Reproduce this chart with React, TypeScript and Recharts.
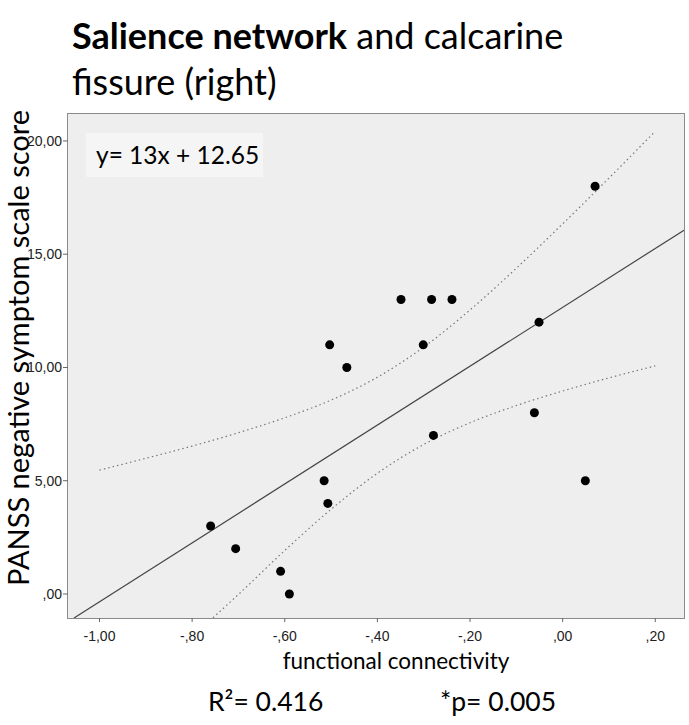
import { ComposedChart, Scatter, Line, XAxis, YAxis } from 'recharts';

// x ticks / y ticks as drawn by the stats package
const xTicks = [-1.0, -0.8, -0.6, -0.4, -0.2, 0.0, 0.2];
const yTicks = [0, 5, 10, 15, 20];

// one point per subject
const connectivity = [-0.349, -0.283, -0.239, -0.051, -0.503, -0.301, -0.466, -0.061, -0.279, -0.515, 0.049, -0.507, -0.76, -0.706, -0.609, -0.59, 0.07];
const panssScore = [13, 13, 13, 12, 11, 11, 10, 8, 7, 5, 5, 4, 3, 2, 1, 0, 18];

// fit line, read at the frame edges
const fitX = [-1.055, 0.262];
const fitY = [-1.06, 16.06];

// 95% confidence band of the mean
const upperX = [-1.0, -0.9, -0.8, -0.7, -0.6, -0.5, -0.4, -0.3, -0.2, -0.1, 0.0, 0.1, 0.2];
const upperY = [5.47, 5.99, 6.53, 7.12, 7.78, 8.56, 9.57, 10.9, 12.54, 14.38, 16.34, 18.36, 20.43];
const lowerX = [-0.755, -0.7, -0.6, -0.5, -0.4, -0.3, -0.2, -0.1, 0.0, 0.1, 0.2];
const lowerY = [-1.05, -0.02, 1.92, 3.74, 5.33, 6.6, 7.56, 8.32, 8.96, 9.54, 10.07];

const points = connectivity.map((x, i) => ({ x, y: panssScore[i] }));
const fitData = fitX.map((x, i) => ({ x, y: fitY[i] }));
const upperData = upperX.map((x, i) => ({ x, y: upperY[i] }));
const lowerData = lowerX.map((x, i) => ({ x, y: lowerY[i] }));

function commaFmt(v: number): string {
  const s = Math.abs(v).toFixed(2).replace('.', ',');
  const body = s.startsWith('0,') ? s.slice(1) : s;
  return (v < -1e-9 ? '-' : '') + body;
}

const textFont = 'Lato, "Open Sans", sans-serif';
const tickStyle = { fill: '#222', fontSize: 14, fontFamily: '"Liberation Sans", Arial, sans-serif' };

export default function App() {
  return (
    <div style={{ position: 'absolute', left: 0, top: 0, width: 689, height: 725, background: '#fff', fontFamily: textFont, color: '#000' }}>
      {/* title */}
      <div style={{ position: 'absolute', left: 72, top: 12, fontSize: 36, lineHeight: '46px' }}>
        <span style={{ fontWeight: 700 }}>Salience network</span> and calcarine
        <br />
        fissure (right)
      </div>

      {/* plot background + frame */}
      <div style={{ position: 'absolute', left: 67, top: 113, width: 616, height: 504, background: '#eeeeee', border: '1.5px solid #8a8a8a' }} />

      {/* equation box */}
      <div style={{ position: 'absolute', left: 86, top: 133, width: 177, height: 44, background: '#f5f5f5', fontSize: 24.5, lineHeight: '44px', paddingLeft: 10, boxSizing: 'border-box' }}>
        y= 13x + 12.65
      </div>

      <div style={{ position: 'absolute', left: 0, top: 0 }}>
        <ComposedChart width={689} height={650} margin={{ top: 114, right: 5, bottom: 2, left: 0 }}>
          <XAxis
            type="number"
            dataKey="x"
            domain={[-1.068, 0.262]}
            ticks={xTicks}
            allowDataOverflow
            tickFormatter={commaFmt}
            tick={tickStyle}
            tickSize={4}
            tickMargin={9}
            axisLine={false}
            tickLine={{ stroke: '#666' }}
            height={30}
          />
          <YAxis
            type="number"
            dataKey="y"
            domain={[-1.06, 21.19]}
            ticks={yTicks}
            allowDataOverflow
            tickFormatter={commaFmt}
            tick={tickStyle}
            tickSize={5}
            tickMargin={1}
            axisLine={false}
            tickLine={{ stroke: '#666' }}
            width={68}
          />
          <Line data={upperData} dataKey="y" type="monotone" dot={false} stroke="#777" strokeWidth={1.2} strokeDasharray="1.5 3" isAnimationActive={false} />
          <Line data={lowerData} dataKey="y" type="monotone" dot={false} stroke="#777" strokeWidth={1.2} strokeDasharray="1.5 3" isAnimationActive={false} />
          <Line data={fitData} dataKey="y" type="linear" dot={false} stroke="#444" strokeWidth={1.2} isAnimationActive={false} />
          <Scatter
            data={points}
            fill="#000"
            isAnimationActive={false}
            shape={(p: any) => <circle cx={p.cx} cy={p.cy} r={4.5} fill="#000" />}
          />
        </ComposedChart>
      </div>

      {/* axis titles */}
      <div
        style={{
          position: 'absolute', left: 18 - 300, top: 348 - 15, width: 600, height: 30,
          textAlign: 'center', fontSize: 29, lineHeight: '30px', transform: 'rotate(-90deg)', whiteSpace: 'nowrap',
        }}
      >
        PANSS negative symptom scale score
      </div>
      <div style={{ position: 'absolute', left: 196, width: 400, top: 647, textAlign: 'center', fontSize: 22.5, lineHeight: '28px' }}>
        functional connectivity
      </div>

      {/* fit statistics */}
      <div style={{ position: 'absolute', left: 208, top: 684, fontSize: 26.5, lineHeight: '34px' }}>
        R²= 0.416
      </div>
      <div style={{ position: 'absolute', left: 440, top: 684, fontSize: 26.5, lineHeight: '34px' }}>
        *p= 0.005
      </div>
    </div>
  );
}
